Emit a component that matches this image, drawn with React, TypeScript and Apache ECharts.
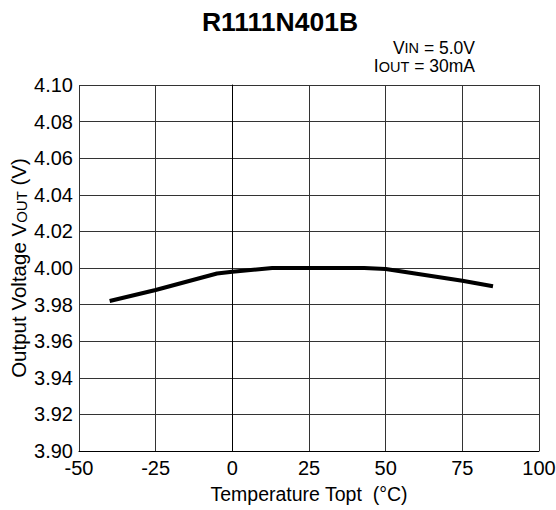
import React, { useEffect, useRef } from "react";
import * as echarts from "echarts";

const titleText = "R1111N401B";
const conditionLines = ["V{s|IN} = 5.0V", "I{s|OUT} = 30mA"];
const temperatures = [-40, -25, -5, 0, 13, 25, 43, 50, 75, 85];
const outputVoltage = [3.982, 3.988, 3.997, 3.998, 4.0, 4.0, 4.0, 3.9995, 3.993, 3.99];
const xTicks = { min: -50, max: 100, interval: 25 };
const yTicks = { min: 3.9, max: 4.1, interval: 0.02 };

const FONT = '"Liberation Sans", Arial, Helvetica, sans-serif';

export default function App() {
  const ref = useRef<HTMLDivElement>(null);
  useEffect(() => {
    if (!ref.current) return;
    const chart = echarts.init(ref.current, null, { renderer: "svg" });
    const data = temperatures.map((t, i) => [t, outputVoltage[i]]);
    const condY = [47.5, 66];
    chart.setOption({
      animation: false,
      backgroundColor: "#ffffff",
      textStyle: { fontFamily: FONT },
      grid: {
        left: 79,
        top: 85,
        width: 460,
        height: 366,
        containLabel: false,
        outerBoundsMode: "none",
      },
      graphic: [
        {
          type: "text",
          x: 280,
          y: 21.5,
          style: {
            text: titleText,
            font: `bold 26.5px ${FONT}`,
            fill: "#000",
            align: "center",
            verticalAlign: "middle",
          },
        },
        ...conditionLines.map((line, i) => ({
          type: "text",
          x: 475,
          y: condY[i],
          style: {
            text: line,
            fontFamily: FONT,
            fontSize: 17.5,
            lineHeight: 16,
            fill: "#000",
            align: "right",
            verticalAlign: "middle",
            rich: {
              s: { fontSize: 14.5, lineHeight: 14, fontFamily: FONT, verticalAlign: "bottom", fill: "#000" },
            },
          },
        })),
      ],
      xAxis: {
        type: "value",
        min: xTicks.min,
        max: xTicks.max,
        interval: xTicks.interval,
        name: "Temperature Topt  (°C)",
        nameLocation: "middle",
        nameGap: 33,
        nameMoveOverlap: false,
        nameTextStyle: { fontSize: 19.5, color: "#000", fontFamily: FONT },
        axisLine: { show: true, lineStyle: { color: "#000", width: 1 } },
        axisTick: { show: false },
        axisLabel: { fontSize: 20, color: "#000", margin: 7, fontFamily: FONT },
        splitLine: { show: true, lineStyle: { color: "#333", width: 1 } },
      },
      yAxis: {
        type: "value",
        min: yTicks.min,
        max: yTicks.max,
        interval: yTicks.interval,
        name: "Output Voltage V{s|OUT} (V)",
        nameLocation: "middle",
        nameGap: 50,
        nameRotate: 90,
        nameMoveOverlap: false,
        nameTextStyle: {
          fontSize: 20.5,
          color: "#000",
          fontFamily: FONT,
          rich: { s: { fontSize: 15, fontFamily: FONT, color: "#000", verticalAlign: "bottom" } },
        },
        axisLine: { show: true, lineStyle: { color: "#000", width: 1 } },
        axisTick: { show: false },
        axisLabel: {
          fontSize: 20,
          color: "#000",
          margin: 6,
          fontFamily: FONT,
          formatter: (v: number) => v.toFixed(2),
        },
        splitLine: { show: true, lineStyle: { color: "#333", width: 1 } },
      },
      series: [
        {
          type: "line",
          data,
          showSymbol: false,
          symbol: "none",
          lineStyle: { color: "#000", width: 4 },
          silent: true,
        },
      ],
    });
    return () => chart.dispose();
  }, []);
  return (
    <div
      ref={ref}
      style={{ position: "fixed", left: 0, top: 0, width: 556, height: 510, background: "#fff" }}
    />
  );
}
